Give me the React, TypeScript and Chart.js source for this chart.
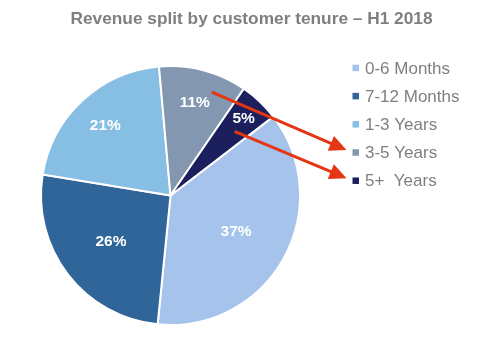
import React, { useEffect, useRef } from "react";
import { Chart, registerables } from "chart.js";

Chart.register(...registerables);

const TITLE = "Revenue split by customer tenure – H1 2018";
const categories = ["0-6 Months", "7-12 Months", "1-3 Years", "3-5 Years", "5+  Years"];
const shares = [37, 26, 21, 11, 5];
const colors = ["#A6C3EC", "#30659A", "#87BEE3", "#8497B0", "#1B1F5D"];
// arrows: from a slice to its legend entry
const calloutSlices = [3, 4];

const FONT = '"Liberation Sans", Arial, Helvetica, sans-serif';
const GRAY = "#7F7F7F";
const RED = "#E53512";

const W = 467;
const H = 327;

const overlay = {
  id: "overlay",
  afterDraw(chart: any) {
    const ctx = chart.ctx as CanvasRenderingContext2D;
    const meta = chart.getDatasetMeta(0);
    ctx.save();

    // title
    ctx.fillStyle = GRAY;
    ctx.font = `bold 17.3px ${FONT}`;
    ctx.textAlign = "center";
    ctx.textBaseline = "alphabetic";
    ctx.fillText(TITLE, 243.5, 16);

    // percentage labels
    ctx.fillStyle = "#FFFFFF";
    ctx.font = `bold 15.5px ${FONT}`;
    ctx.textBaseline = "middle";
    meta.data.forEach((arc: any, i: number) => {
      const p = arc.getProps(["x", "y", "startAngle", "endAngle", "outerRadius"], true);
      const mid = (p.startAngle + p.endAngle) / 2;
      const v = shares[i];
      const f = v >= 25 ? 0.58 : v >= 10 ? 0.74 : 0.82;
      ctx.fillText(`${v}%`, p.x + Math.cos(mid) * p.outerRadius * f, p.y + Math.sin(mid) * p.outerRadius * f);
    });

    // legend
    const lx = 344.5;
    const box = 6.5;
    const base0 = 65.5;
    const step = 28.2;
    ctx.font = `17px ${FONT}`;
    ctx.textAlign = "left";
    ctx.textBaseline = "alphabetic";
    categories.forEach((c, i) => {
      const base = base0 + i * step;
      ctx.fillStyle = colors[i];
      ctx.fillRect(lx, base - 5.6 - box / 2, box, box);
      ctx.fillStyle = GRAY;
      ctx.fillText(c, lx + 12.5, base);
    });

    // arrows
    const startSpec: Record<number, [number, number]> = { 3: [0.68, 0.86], 4: [0.58, 0.7] };
    calloutSlices.forEach((si) => {
      const p = meta.data[si].getProps(["x", "y", "startAngle", "endAngle", "outerRadius"], true);
      const [af, rf] = startSpec[si];
      const a = p.startAngle + (p.endAngle - p.startAngle) * af;
      const sx = p.x + Math.cos(a) * p.outerRadius * rf;
      const sy = p.y + Math.sin(a) * p.outerRadius * rf;
      const tx = lx - 6;
      const ty = base0 + si * step - 5.6 - 2.5;
      const ang = Math.atan2(ty - sy, tx - sx);
      const hl = 17;
      const hw = 8;
      const bx = tx - Math.cos(ang) * hl;
      const by = ty - Math.sin(ang) * hl;
      ctx.strokeStyle = RED;
      ctx.lineWidth = 3;
      ctx.lineCap = "butt";
      ctx.beginPath();
      ctx.moveTo(sx, sy);
      ctx.lineTo(bx + Math.cos(ang) * 2, by + Math.sin(ang) * 2);
      ctx.stroke();
      ctx.fillStyle = RED;
      ctx.beginPath();
      ctx.moveTo(tx, ty);
      ctx.lineTo(bx - Math.sin(ang) * hw, by + Math.cos(ang) * hw);
      ctx.lineTo(bx + Math.sin(ang) * hw, by - Math.cos(ang) * hw);
      ctx.closePath();
      ctx.fill();
    });

    ctx.restore();
  },
};

export default function App() {
  const ref = useRef<HTMLCanvasElement | null>(null);

  useEffect(() => {
    if (!ref.current) return;
    const chart = new Chart(ref.current, {
      type: "pie",
      data: {
        labels: categories,
        datasets: [
          {
            data: shares,
            backgroundColor: colors,
            borderColor: "#FFFFFF",
            borderWidth: 2,
          },
        ],
      },
      options: {
        responsive: false,
        animation: false,
        rotation: 52.5,
        layout: { padding: { left: 32, top: 57, right: 174, bottom: 9 } },
        plugins: {
          legend: { display: false },
          title: { display: false },
          tooltip: { enabled: false },
        },
      },
      plugins: [overlay],
    });
    return () => chart.destroy();
  }, []);

  return (
    <div style={{ width: W, height: H }}>
      <canvas ref={ref} width={W} height={H} style={{ display: "block" }} />
    </div>
  );
}
